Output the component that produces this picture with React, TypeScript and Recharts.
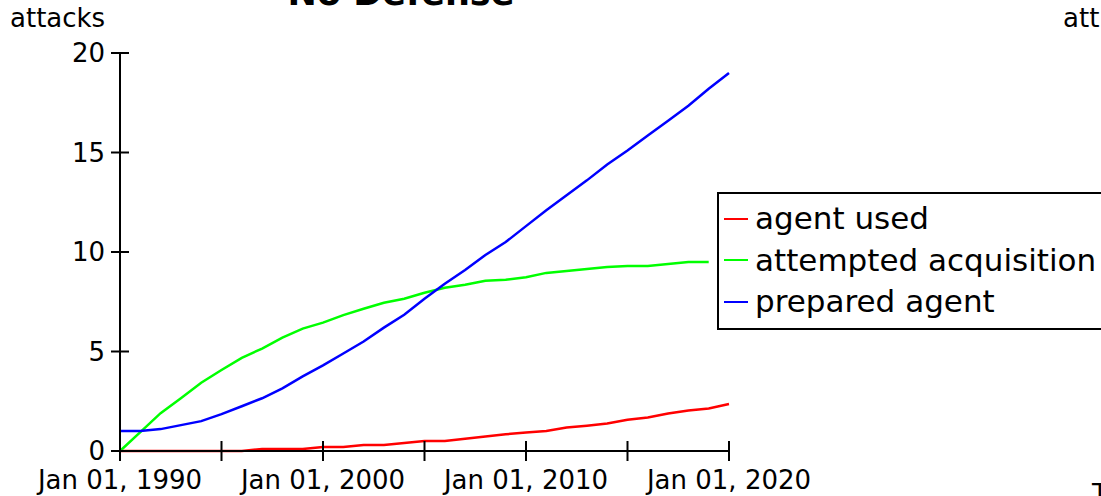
import React from 'react';
import { Customized, Legend, Line, LineChart, XAxis, YAxis } from 'recharts';

const years = [
  1990, 1991, 1992, 1993, 1994, 1995, 1996, 1997, 1998, 1999, 2000, 2001, 2002, 2003, 2004, 2005,
  2006, 2007, 2008, 2009, 2010, 2011, 2012, 2013, 2014, 2015, 2016, 2017, 2018, 2019, 2020,
];
const agentUsed = [
  0, 0, 0, 0, 0, 0, 0, 0.1, 0.1, 0.1, 0.2, 0.2, 0.3, 0.3, 0.4, 0.5,
  0.5, 0.62, 0.73, 0.84, 0.93, 1.0, 1.18, 1.27, 1.38, 1.57, 1.68, 1.88, 2.04, 2.14, 2.36,
];
const attemptedAcquisition = [
  0, 0.95, 1.9, 2.65, 3.43, 4.07, 4.68, 5.15, 5.7, 6.15, 6.45, 6.83, 7.15, 7.45, 7.65, 7.95,
  8.2, 8.35, 8.55, 8.6, 8.73, 8.95, 9.05, 9.15, 9.25, 9.3, 9.3, 9.4, 9.5, 9.5, null,
];
const preparedAgent = [
  1.0, 1.0, 1.1, 1.3, 1.5, 1.85, 2.25, 2.65, 3.15, 3.75, 4.3, 4.9, 5.5, 6.2, 6.85, 7.65,
  8.4, 9.1, 9.85, 10.5, 11.3, 12.1, 12.85, 13.6, 14.4, 15.1, 15.85, 16.6, 17.35, 18.2, 19.0,
];
const xTicks = [1990, 1995, 2000, 2005, 2010, 2015, 2020];
const xLabelled = [1990, 2000, 2010, 2020];
const yTicks = [0, 5, 10, 15, 20];

const series = [
  { key: 'agentUsed', name: 'agent used', color: '#ff0000' },
  { key: 'attemptedAcquisition', name: 'attempted acquisition', color: '#00ff00' },
  { key: 'preparedAgent', name: 'prepared agent', color: '#0000ff' },
];

const data = years.map((year, i) => ({
  year,
  agentUsed: agentUsed[i],
  attemptedAcquisition: attemptedAcquisition[i],
  preparedAgent: preparedAgent[i],
}));

const FONT = '"DejaVu Sans", Verdana, sans-serif';

const XTick = ({ x, y, payload }: any) => (
  <g>
    <line x1={x} x2={x} y1={y - 10} y2={y + 10} stroke="#000" strokeWidth={2} />
    {xLabelled.includes(payload.value) && (
      <text x={x} y={y + 38} textAnchor="middle" fontSize={26} fontFamily={FONT} fill="#000">
        {`Jan 01, ${payload.value}`}
      </text>
    )}
  </g>
);

const YTick = ({ x, y, payload }: any) => (
  <g>
    <line x1={x - 9} x2={x + 9} y1={y} y2={y} stroke="#000" strokeWidth={2} />
    <text x={x - 15} y={y} dy="0.36em" textAnchor="end" fontSize={26} fontFamily={FONT} fill="#000">
      {payload.value}
    </text>
  </g>
);

const LegendBox = () => (
  <div
    style={{
      border: '2px solid #000',
      background: '#fff',
      padding: '4px 30px 5px 5px',
      fontFamily: FONT,
      fontSize: 31,
      color: '#000',
      width: 420,
    }}
  >
    {series.map((s) => (
      <div key={s.key} style={{ display: 'flex', alignItems: 'center', height: 41.5, lineHeight: '41.5px' }}>
        <span style={{ display: 'inline-block', width: 24, height: 2, background: s.color, marginRight: 7 }} />
        <span>{s.name}</span>
      </div>
    ))}
  </div>
);

const Annotations = () => (
  <g fontFamily={FONT} fill="#000">
    <text x={401} y={5} textAnchor="middle" fontSize={35} fontWeight="bold">No Defense</text>
    <text x={10} y={27} fontSize={26}>attacks</text>
    <text x={1063} y={27} fontSize={26}>att</text>
    <text x={1092} y={503} fontSize={26}>T</text>
  </g>
);

const App = () => (
  <div style={{ position: 'absolute', left: 0, top: 0, width: 1101, height: 496, overflow: 'hidden', background: '#fff' }}>
    <LineChart width={1101} height={496} data={data} margin={{ top: 53, right: 372, bottom: 0, left: 0 }}>
      <XAxis
        dataKey="year"
        type="number"
        domain={[1990, 2020]}
        ticks={xTicks}
        interval={0}
        height={45}
        tickSize={0}
        tickMargin={0}
        tickLine={false}
        axisLine={{ stroke: '#000', strokeWidth: 2 }}
        tick={<XTick />}
      />
      <YAxis
        domain={[0, 20]}
        ticks={yTicks}
        interval={0}
        width={120}
        tickSize={0}
        tickMargin={0}
        tickLine={false}
        axisLine={{ stroke: '#000', strokeWidth: 2 }}
        tick={<YTick />}
      />
      <Legend
        layout="vertical"
        align="center"
        verticalAlign="middle"
        wrapperStyle={{ left: 717, top: 192, width: 'auto' }}
        content={<LegendBox />}
      />
      {series.map((s) => (
        <Line
          key={s.key}
          type="linear"
          dataKey={s.key}
          name={s.name}
          stroke={s.color}
          strokeWidth={2.5}
          dot={false}
          activeDot={false}
          isAnimationActive={false}
        />
      ))}
      <Customized component={Annotations} />
    </LineChart>
  </div>
);

export default App;
